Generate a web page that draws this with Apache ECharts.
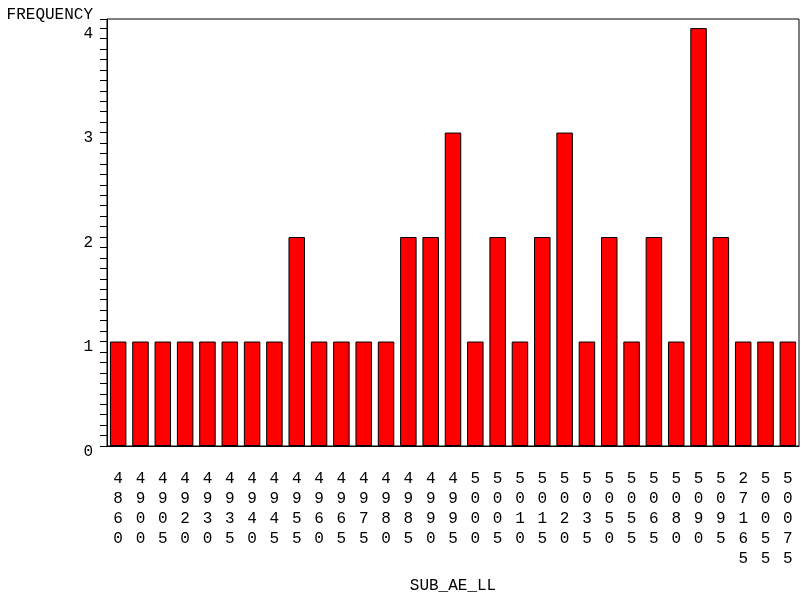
<!DOCTYPE html>
<html>
<head>
<meta charset="utf-8">
<script src="https://cdn.jsdelivr.net/npm/echarts@6/dist/echarts.min.js"></script>
<style>html,body{margin:0;padding:0;background:#fff}#c{width:801px;height:601px}</style>
</head>
<body>
<div id="c"></div>
<script>
const categories = ['4860','4900','4905','4920','4930','4935','4940','4945','4955','4960','4965','4975','4980','4985','4990','4995','5000','5005','5010','5015','5020','5035','5050','5055','5065','5080','5090','5095','27165','50055','50075'];
const frequency = [1,1,1,1,1,1,1,1,2,1,1,1,1,2,2,3,1,2,1,2,3,1,2,1,2,1,4,2,1,1,1];
const yTicks = [0,1,2,3,4];

const font = 'Liberation Mono';
const chart = echarts.init(document.getElementById('c'), null, {renderer:'canvas'});
chart.setOption({
  animation: false,
  backgroundColor: '#fff',
  grid: {left:107, right:2, top:19, bottom:155, show:true, borderColor:'#000', borderWidth:1, containLabel:false, outerBoundsMode:'none'},
  xAxis: {
    type:'category', data:categories,
    name:'SUB_AE_LL', nameLocation:'middle', nameGap:132,
    nameTextStyle:{fontFamily:font, fontSize:16, color:'#000'},
    axisLine:{lineStyle:{color:'#000', width:1}},
    axisTick:{show:false},
    axisLabel:{interval:0, fontFamily:font, fontSize:16, color:'#000', lineHeight:20, margin:23,
      formatter: v => v.split('').join('\n')}
  },
  yAxis: {
    type:'value', min:0, max:4.087, interval:1,
    name:'FREQUENCY', nameLocation:'end', nameGap:-4,
    nameTextStyle:{fontFamily:font, fontSize:16, color:'#000', align:'right', verticalAlign:'bottom', padding:[0,14,0,0], lineHeight:16},
    axisLine:{show:true, lineStyle:{color:'#000', width:1}},
    axisTick:{show:true, length:7, lineStyle:{color:'#000'}},
    minorTick:{show:true, splitNumber:10, length:7, lineStyle:{color:'#000'}},
    splitLine:{show:false},
    axisLabel:{fontFamily:font, fontSize:16, color:'#000', margin:14, verticalAlign:'top', lineHeight:11,
      formatter: v => (yTicks.indexOf(Math.round(v)) >= 0 && Math.abs(v-Math.round(v))<1e-6) ? String(Math.round(v)) : ''}
  },
  series: [{
    type:'bar', data:frequency, barWidth:16.5,
    itemStyle:{color:'#ff0000', borderColor:'#000', borderWidth:1}
  }]
});
</script>
</body>
</html>
